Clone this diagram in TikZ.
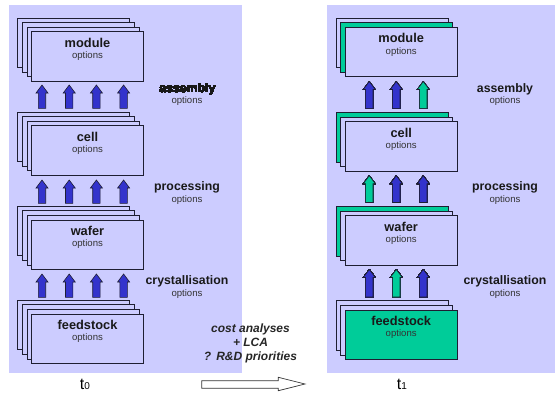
\documentclass[tikz,border=0pt]{standalone}
\usepackage{fontspec}
\setmainfont{Liberation Sans}
\definecolor{lav}{RGB}{204,204,255}
\definecolor{grn}{RGB}{0,204,153}
\definecolor{blu}{RGB}{51,51,204}
\definecolor{edge}{RGB}{30,30,50}
\newcommand{\myblockarrow}[4]{\draw[arrowline, fill=#4] (#1,#2) -- ++(6,8) -- ++(-2.3,0) -- ++(0,#3-8) -- ++(-7.4,0) -- ++(0,8-#3) -- ++(-2.3,0) -- cycle;}
\tikzset{
  layer/.style={draw=edge, fill=lav, line width=0.7pt, minimum width=112pt, minimum height=49.5pt, inner sep=0pt},
  ttl/.style={anchor=base, inner sep=0pt, font=\fontsize{12.8}{14}\selectfont\bfseries, text=black!90},
  opt/.style={anchor=base, inner sep=0pt, font=\fontsize{9.6}{11}\selectfont, text=black!80},
  sidelbl/.style={anchor=base, inner sep=0pt, font=\fontsize{12.3}{14}\selectfont\bfseries, text=black!90},
  notelbl/.style={anchor=base, inner sep=0pt, font=\fontsize{12}{14}\selectfont\bfseries\itshape, text=black!85},
  arrowline/.style={draw=edge, line width=0.6pt, line join=miter},
}
\begin{document}
\begin{tikzpicture}[x=1pt, y=-1pt]
\useasboundingbox (0,0) rectangle (555,392);
% panels
\fill[lav] (9,5) rectangle (242,373.3);
\fill[lav] (327,5) rectangle (555,373.3);
% left stacks
\foreach \n/\t/\ty in {mod/module/31.7, cel/cell/125.7, waf/wafer/220, fee/feedstock/314} {
  \foreach \k in {3,2,1}
    \node[layer] (L\n\k) at (87.5-4.6*\k, \ty+24.75-4.6*\k) {};
  \node[layer] (L\n0) at (87.5, \ty+24.75) {};
  \node[ttl] (L\n t) at (87.5, \ty+15.3) {\t};
  \node[opt] (L\n o) at (87.5, \ty+26.8) {options};
}
% right stacks
\foreach \n/\t/\ty/\ca/\cb/\cc in {mod/module/27.3/lav/grn/lav, cel/cell/121.7/grn/lav/lav, waf/wafer/215.7/grn/lav/lav, fee/feedstock/310/lav/lav/grn} {
  \node[layer, fill=\ca] (R\n2) at (401.2-9.2, \ty+24.75-9.2) {};
  \node[layer, fill=\cb] (R\n1) at (401.2-4.6, \ty+24.75-4.6) {};
  \node[layer, fill=\cc] (R\n0) at (401.2, \ty+24.75) {};
  \node[ttl] (R\n t) at (401.2, \ty+15.3) {\t};
  \node[opt] (R\n o) at (401.2, \ty+26.8) {options};
}
% left arrows
\foreach \ty in {85, 180, 274}
  \foreach \x in {42, 69.2, 96.4, 123.6}
    \myblockarrow{\x}{\ty}{23.3}{blu}
% right arrows
\foreach \x/\c in {369.3/blu, 396.3/blu, 423.3/grn} \myblockarrow{\x}{81.5}{26.8}{\c}
\foreach \x/\c in {369.3/grn, 396.3/blu, 423.3/blu} \myblockarrow{\x}{175.7}{26.8}{\c}
\foreach \x/\c in {369.3/blu, 396.3/grn, 423.3/blu} \myblockarrow{\x}{269.5}{27.5}{\c}
% side labels
\node[sidelbl] (leftassembly) at (187.4, 92) {assembly};
\node[opt] (leftassemblyopt) at (187, 103.3) {options};
\node[sidelbl] (leftprocessing) at (187, 190) {processing};
\node[opt] (leftprocessingopt) at (187, 202.7) {options};
\node[sidelbl] (leftcryst) at (187, 284) {crystallisation};
\node[opt] (leftcrystopt) at (187, 296) {options};
\node[sidelbl] (rightassembly) at (505, 92) {assembly};
\node[opt] (rightassemblyopt) at (505, 103.3) {options};
\node[sidelbl] (rightprocessing) at (505, 190) {processing};
\node[opt] (rightprocessingopt) at (505, 202.7) {options};
\node[sidelbl] (rightcryst) at (505, 284) {crystallisation};
\node[opt] (rightcrystopt) at (505, 296) {options};
% notes
\node[notelbl] (n1) at (250.5, 332.3) {cost analyses};
\node[notelbl] (n2) at (250.5, 346.7) {+ LCA};
\node[notelbl] (n3) at (250.5, 360.7) {?\hspace{5pt}R\&D priorities};
% open arrow
\draw[draw=black!80, fill=white, line width=0.7pt, line join=miter]
  (201.7,380.7) -- (278.3,380.7) -- (278.3,377.3) -- (305,384) -- (278.3,390.7) -- (278.3,388.3) -- (201.7,388.3) -- cycle;
% time labels
\node[anchor=base, inner sep=0pt, font=\fontsize{16}{16}\selectfont] (t0) at (85,389) {t{\fontsize{10}{10}\selectfont 0}};
\node[anchor=base, inner sep=0pt, font=\fontsize{16}{16}\selectfont] (t1) at (402,389) {t{\fontsize{10}{10}\selectfont 1}};
\end{tikzpicture}
\end{document}
